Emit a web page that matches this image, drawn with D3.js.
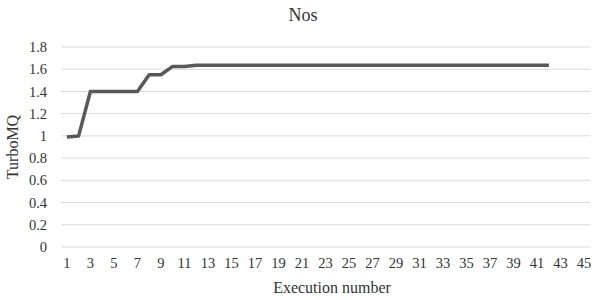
<!DOCTYPE html>
<html>
<head>
<meta charset="utf-8">
<script src="https://cdn.jsdelivr.net/npm/d3@7"></script>
<style>
  body { margin: 0; background: #fff; }
  text { font-family: "Liberation Serif", "Times New Roman", serif; fill: #333; }
</style>
</head>
<body>
<svg width="600" height="300"></svg>
<script>
// execution numbers shown on the axis (1..45) and measured TurboMQ per run
var executions = d3.range(1, 46);
var turboMQ = [0.99, 1.00, 1.40, 1.40, 1.40, 1.40, 1.40, 1.55, 1.55, 1.625, 1.625,
  1.635, 1.635, 1.635, 1.635, 1.635, 1.635, 1.635, 1.635, 1.635, 1.635, 1.635,
  1.635, 1.635, 1.635, 1.635, 1.635, 1.635, 1.635, 1.635, 1.635, 1.635, 1.635,
  1.635, 1.635, 1.635, 1.635, 1.635, 1.635, 1.635, 1.635, 1.635];
var yTicks = [0, 0.2, 0.4, 0.6, 0.8, 1, 1.2, 1.4, 1.6, 1.8];

var svg = d3.select("svg"),
  margin = { top: 47, right: 10, bottom: 53, left: 61 },
  width = 590 - margin.left,
  height = +svg.attr("height") - margin.top - margin.bottom;

var x = d3.scaleBand().domain(executions).range([0, width]);
var y = d3.scaleLinear().domain([0, 1.8]).range([height, 0]);

var g = svg.append("g").attr("transform", "translate(" + margin.left + "," + margin.top + ")");

// gridlines
g.append("g")
  .selectAll("line")
  .data(yTicks)
  .enter()
  .append("line")
  .attr("x1", 0)
  .attr("x2", width)
  .attr("y1", d => y(d))
  .attr("y2", d => y(d))
  .attr("stroke", "#d9d9d9")
  .attr("stroke-width", 1);

// y axis labels
g.append("g")
  .call(d3.axisLeft(y).tickValues(yTicks).tickSize(0).tickPadding(14).tickFormat(d3.format("")))
  .call(a => a.select(".domain").remove())
  .selectAll("text")
  .style("font-size", "14.5px");

// x axis labels every other category
g.append("g")
  .attr("transform", "translate(0," + height + ")")
  .call(d3.axisBottom(x).tickValues(executions.filter(d => d % 2 === 1)).tickSize(0).tickPadding(11))
  .call(a => a.select(".domain").remove())
  .selectAll("text")
  .style("font-size", "14.5px");

var line = d3.line()
  .x((d, i) => x(executions[i]) + x.bandwidth() / 2)
  .y(d => y(d));

g.append("path")
  .datum(turboMQ)
  .attr("fill", "none")
  .attr("stroke", "#595959")
  .attr("stroke-width", 3.5)
  .attr("stroke-linejoin", "round")
  .attr("d", line);

svg.append("text")
  .attr("x", 303)
  .attr("y", 21)
  .attr("text-anchor", "middle")
  .style("font-size", "18px")
  .text("Nos");

svg.append("text")
  .attr("transform", "translate(18," + (margin.top + height / 2) + ") rotate(-90)")
  .attr("text-anchor", "middle")
  .style("font-size", "16px")
  .text("TurboMQ");

svg.append("text")
  .attr("x", 332)
  .attr("y", 293)
  .attr("text-anchor", "middle")
  .style("font-size", "16px")
  .text("Execution number");
</script>
</body>
</html>
